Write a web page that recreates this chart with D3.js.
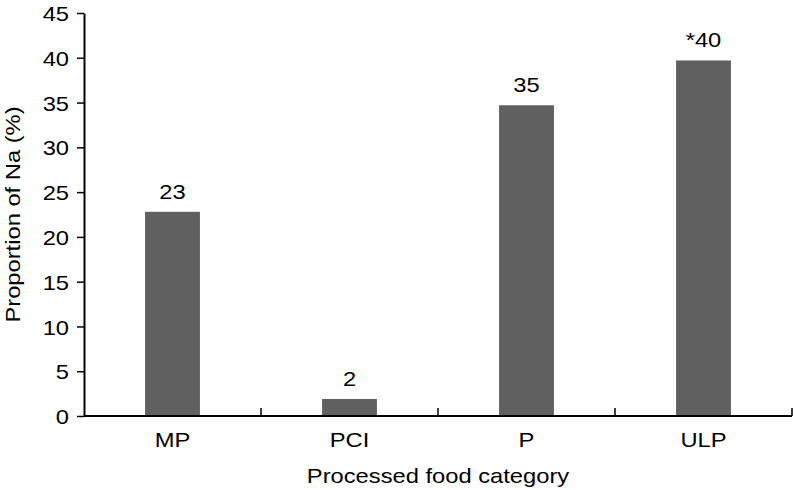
<!DOCTYPE html>
<html>
<head>
<meta charset="utf-8">
<script src="https://cdn.jsdelivr.net/npm/d3@7"></script>
<style>
  body { margin: 0; background: #fff; }
  text { font-family: "Liberation Sans", Arial, sans-serif; fill: #000; }
</style>
</head>
<body>
<svg width="794" height="490"></svg>
<script>
var categories = ["MP", "PCI", "P", "ULP"];
var values = [22.8, 1.9, 34.7, 39.7];
var barLabels = ["23", "2", "35", "*40"];
var yTicks = [0, 5, 10, 15, 20, 25, 30, 35, 40, 45];

var svg = d3.select("svg");
var margin = {left: 84, right: 2, top: 13, bottom: 74};
var width = +svg.attr("width");
var height = +svg.attr("height");
var fontSize = "21px";
var stretch = 1.13; // text in the original is a bit wide

var x = d3.scaleBand()
    .domain(categories)
    .range([margin.left, width - margin.right])
    .paddingInner(0.69)
    .paddingOuter(0.345);

var y = d3.scaleLinear()
    .domain([0, 45])
    .range([height - margin.bottom, margin.top]);

var g = svg.append("g");

// helper: stretched text placed at (px, py)
function addText(parent, px, py, str, anchor, rotate) {
    var t = parent.append("g")
        .attr("transform", "translate(" + px + "," + py + ")" + (rotate ? " rotate(" + rotate + ")" : ""))
        .append("text")
        .attr("transform", "scale(" + stretch + ",1)")
        .attr("text-anchor", anchor || "middle")
        .style("font-size", fontSize)
        .text(str);
    return t;
}

// bars
g.selectAll("rect.bar")
    .data(categories)
    .enter().append("rect")
    .attr("class", "bar")
    .attr("x", function (d) { return x(d); })
    .attr("width", x.bandwidth())
    .attr("y", function (d, i) { return y(values[i]); })
    .attr("height", function (d, i) { return y(0) - y(values[i]); })
    .attr("fill", "#606060");

// value labels
categories.forEach(function (d, i) {
    addText(g, x(d) + x.bandwidth() / 2, y(values[i]) - 13, barLabels[i]);
});

// y axis
var yAxis = g.append("g")
    .attr("transform", "translate(" + margin.left + ",0)")
    .call(d3.axisLeft(y).tickValues(yTicks).tickSize(7).tickPadding(8).tickSizeOuter(0));
yAxis.select(".domain").attr("stroke", "#000").attr("stroke-width", 2);
yAxis.selectAll(".tick line").attr("stroke-width", 1.5);
yAxis.selectAll(".tick text")
    .attr("transform", "scale(" + stretch + ",1)")
    .attr("x", -15 / stretch)
    .attr("dy", "0.36em")
    .style("font-size", fontSize)
    .style("font-family", "Liberation Sans, Arial, sans-serif");

// x axis
var xg = g.append("g");
xg.append("line")
    .attr("x1", margin.left)
    .attr("x2", width - margin.right)
    .attr("y1", y(0))
    .attr("y2", y(0))
    .attr("stroke", "#000")
    .attr("stroke-width", 2);
var bandStart = x.range()[0];
var bandEnd = x.range()[1];
var edges = d3.range(1, categories.length + 1).map(function (i) {
    return bandStart + (bandEnd - bandStart) * i / categories.length;
});
xg.selectAll("line.tick")
    .data(edges)
    .enter().append("line")
    .attr("class", "tick")
    .attr("x1", function (d) { return d; })
    .attr("x2", function (d) { return d; })
    .attr("y1", y(0))
    .attr("y2", y(0) - 8)
    .attr("stroke", "#000")
    .attr("stroke-width", 1.5);
categories.forEach(function (d) {
    addText(xg, x(d) + x.bandwidth() / 2, y(0) + 31, d);
});

// axis titles
addText(svg, (bandStart + bandEnd) / 2, 483, "Processed food category");
addText(svg, 20, (y(0) + y(45)) / 2, "Proportion of Na (%)", "middle", -90);
</script>
</body>
</html>
